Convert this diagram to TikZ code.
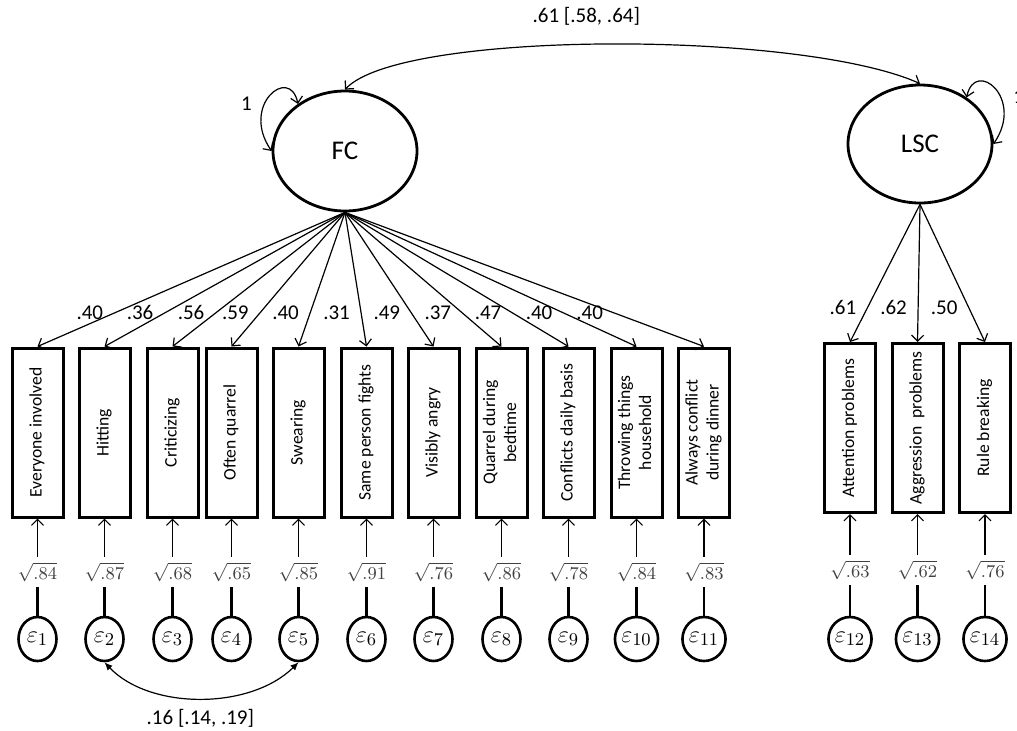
\documentclass[tikz,border=0pt]{standalone}
\usepackage{amsmath}
\usepackage[no-math]{fontspec}
\setmainfont{Carlito}
\usepackage{tikz}
\usetikzlibrary{arrows.meta}
\usetikzlibrary{shapes.geometric}
\usetikzlibrary{calc}
\usetikzlibrary{positioning}

\newcommand{\vtext}[1]{\rotatebox{90}{\begin{tabular}{@{}c@{}}#1\end{tabular}}}

\begin{document}
\begin{tikzpicture}[
	x=0.5pt, y=-0.5pt,
  > = {Straight Barb[length=3pt,width=6pt]},
  latent/.style = {draw, ellipse, line width=1.4pt, minimum width=72pt, minimum height=60pt, inner sep=0pt, font=\fontsize{13.5}{16}\selectfont},
  indicator/.style = {draw, rectangle, line width=1.5pt, minimum width=25.5pt, minimum height=84.5pt, inner sep=0pt, font=\fontsize{8.8}{10.5}\selectfont},
  errterm/.style = {draw, ellipse, line width=1.3pt, minimum width=19pt, minimum height=22pt, inner sep=0pt, font=\fontsize{12.5}{14}\selectfont},
  varlbl/.style = {fill=white, inner sep=0pt, minimum height=15pt, text=black!75, font=\fontsize{9.5}{11}\selectfont},
  load/.style = {pos=.75, left=2pt, font=\fontsize{10.5}{12}\selectfont},
  loadpath/.style = {->, line width=0.6pt},
  errline/.style = {line width=1.2pt},
  covpath/.style = {line width=0.6pt, font=\fontsize{10.5}{12}\selectfont}
  ]
	\useasboundingbox (0,0) rectangle (1017,730);

	% latent factors
	\node[latent] (FC) at (345,151) {FC};
	\node[latent, minimum height=59pt] (LSC) at (920,144) {LSC};

	\draw[covpath, <->] (FC.north) .. controls (400,30) and (800,30) .. node[pos=.47, above=6pt] {.61 [.58, .64]} (LSC.north);
	\draw[covpath, <->] (FC.135) .. controls (290,65) and (240,105) .. node[pos=.6, left=3pt] {1} (FC.180);
	\draw[covpath, <->] (LSC.45) .. controls (975,58) and (1025,98) .. node[pos=.6, right=3pt] {1} (LSC.0);

	% indicators
	\node[indicator] (x1)  at (37.5,432.5)  {\vtext{Everyone involved}};
	\node[indicator] (x2)  at (104.5,432.5) {\vtext{Hitting}};
	\node[indicator] (x3)  at (172.5,432.5) {\vtext{Criticizing}};
	\node[indicator] (x4)  at (231.5,432.5) {\vtext{Often quarrel}};
	\node[indicator] (x5)  at (298.5,432.5) {\vtext{Swearing}};
	\node[indicator] (x6)  at (366.5,432.5) {\vtext{Same person fights}};
	\node[indicator] (x7)  at (433.5,432.5) {\vtext{Visibly angry}};
	\node[indicator] (x8)  at (501.5,432.5) {\vtext{Quarrel during\\bedtime}};
	\node[indicator] (x9)  at (568.5,432.5) {\vtext{Conflicts daily basis}};
	\node[indicator] (x10) at (636.5,432.5) {\vtext{Throwing things\\household}};
	\node[indicator] (x11) at (704,432.5)   {\vtext{Always conflict\\during dinner}};
	\node[indicator] (x12) at (850,428)     {\vtext{Attention problems}};
	\node[indicator] (x13) at (917.5,428)   {\vtext{Aggression\ \ problems}};
	\node[indicator] (x14) at (985,428)     {\vtext{Rule breaking}};

	% loadings
	\draw[loadpath] (FC.south) -- node[load] {.40} (x1.north);
	\draw[loadpath] (FC.south) -- node[load] {.36} (x2.north);
	\draw[loadpath] (FC.south) -- node[load] {.56} (x3.north);
	\draw[loadpath] (FC.south) -- node[load] {.59} (x4.north);
	\draw[loadpath] (FC.south) -- node[load] {.40} (x5.north);
	\draw[loadpath] (FC.south) -- node[load] {.31} (x6.north);
	\draw[loadpath] (FC.south) -- node[load] {.49} (x7.north);
	\draw[loadpath] (FC.south) -- node[load] {.37} (x8.north);
	\draw[loadpath] (FC.south) -- node[load] {.47} (x9.north);
	\draw[loadpath] (FC.south) -- node[load] {.40} (x10.north);
	\draw[loadpath] (FC.south) -- node[load] {.40} (x11.north);
	\draw[loadpath] (LSC.south) -- node[load] {.61} (x12.north);
	\draw[loadpath] (LSC.south) -- node[load] {.62} (x13.north);
	\draw[loadpath] (LSC.south) -- node[load] {.50} (x14.north);

	% error terms
	\node[errterm] (e1)  at (37.5,639)  {$\varepsilon_{1}$};
	\node[errterm] (e2)  at (104.5,639) {$\varepsilon_{2}$};
	\node[errterm] (e3)  at (172.5,639) {$\varepsilon_{3}$};
	\node[errterm] (e4)  at (231.5,639) {$\varepsilon_{4}$};
	\node[errterm] (e5)  at (298.5,639) {$\varepsilon_{5}$};
	\node[errterm] (e6)  at (366.5,639) {$\varepsilon_{6}$};
	\node[errterm] (e7)  at (433.5,639) {$\varepsilon_{7}$};
	\node[errterm] (e8)  at (501.5,639) {$\varepsilon_{8}$};
	\node[errterm] (e9)  at (568.5,639) {$\varepsilon_{9}$};
	\node[errterm] (e10) at (636.5,639) {$\varepsilon_{10}$};
	\node[errterm] (e11) at (704,639)   {$\varepsilon_{11}$};
	\node[errterm] (e12) at (850,639)   {$\varepsilon_{12}$};
	\node[errterm] (e13) at (917.5,639) {$\varepsilon_{13}$};
	\node[errterm] (e14) at (985,639)   {$\varepsilon_{14}$};

	\node[varlbl] (v1)  at (37.5,572)  {$\sqrt{.84}$};
	\node[varlbl] (v2)  at (104.5,572) {$\sqrt{.87}$};
	\node[varlbl] (v3)  at (172.5,572) {$\sqrt{.68}$};
	\node[varlbl] (v4)  at (231.5,572) {$\sqrt{.65}$};
	\node[varlbl] (v5)  at (298.5,572) {$\sqrt{.85}$};
	\node[varlbl] (v6)  at (366.5,572) {$\sqrt{.91}$};
	\node[varlbl] (v7)  at (433.5,572) {$\sqrt{.76}$};
	\node[varlbl] (v8)  at (501.5,572) {$\sqrt{.86}$};
	\node[varlbl] (v9)  at (568.5,572) {$\sqrt{.78}$};
	\node[varlbl] (v10) at (636.5,572) {$\sqrt{.84}$};
	\node[varlbl] (v11) at (704,572)   {$\sqrt{.83}$};
	\node[varlbl] (v12) at (850,570)   {$\sqrt{.63}$};
	\node[varlbl] (v13) at (917.5,570) {$\sqrt{.62}$};
	\node[varlbl] (v14) at (985,570)   {$\sqrt{.76}$};

	\draw[errline] (e1) -- (v1);   \draw[loadpath] (v1) -- (x1);
	\draw[errline] (e2) -- (v2);   \draw[loadpath] (v2) -- (x2);
	\draw[errline] (e3) -- (v3);   \draw[loadpath] (v3) -- (x3);
	\draw[errline] (e4) -- (v4);   \draw[loadpath] (v4) -- (x4);
	\draw[errline] (e5) -- (v5);   \draw[loadpath] (v5) -- (x5);
	\draw[errline] (e6) -- (v6);   \draw[loadpath] (v6) -- (x6);
	\draw[errline] (e7) -- (v7);   \draw[loadpath] (v7) -- (x7);
	\draw[errline] (e8) -- (v8);   \draw[loadpath] (v8) -- (x8);
	\draw[errline] (e9) -- (v9);   \draw[loadpath] (v9) -- (x9);
	\draw[errline] (e10) -- (v10); \draw[loadpath] (v10) -- (x10);
	\draw[errline] (e11) -- (v11); \draw[loadpath] (v11) -- (x11);
	\draw[errline] (e12) -- (v12); \draw[loadpath] (v12) -- (x12);
	\draw[errline] (e13) -- (v13); \draw[loadpath] (v13) -- (x13);
	\draw[errline] (e14) -- (v14); \draw[loadpath] (v14) -- (x14);

	\draw[covpath, {Latex[length=4pt,width=3.5pt]}-{Latex[length=4pt,width=3.5pt]}] (e2.south) .. controls (150,710) and (250,710) .. node[pos=.5, below=2pt] {.16 [.14, .19]} (e5.south);

\end{tikzpicture}
\end{document}
